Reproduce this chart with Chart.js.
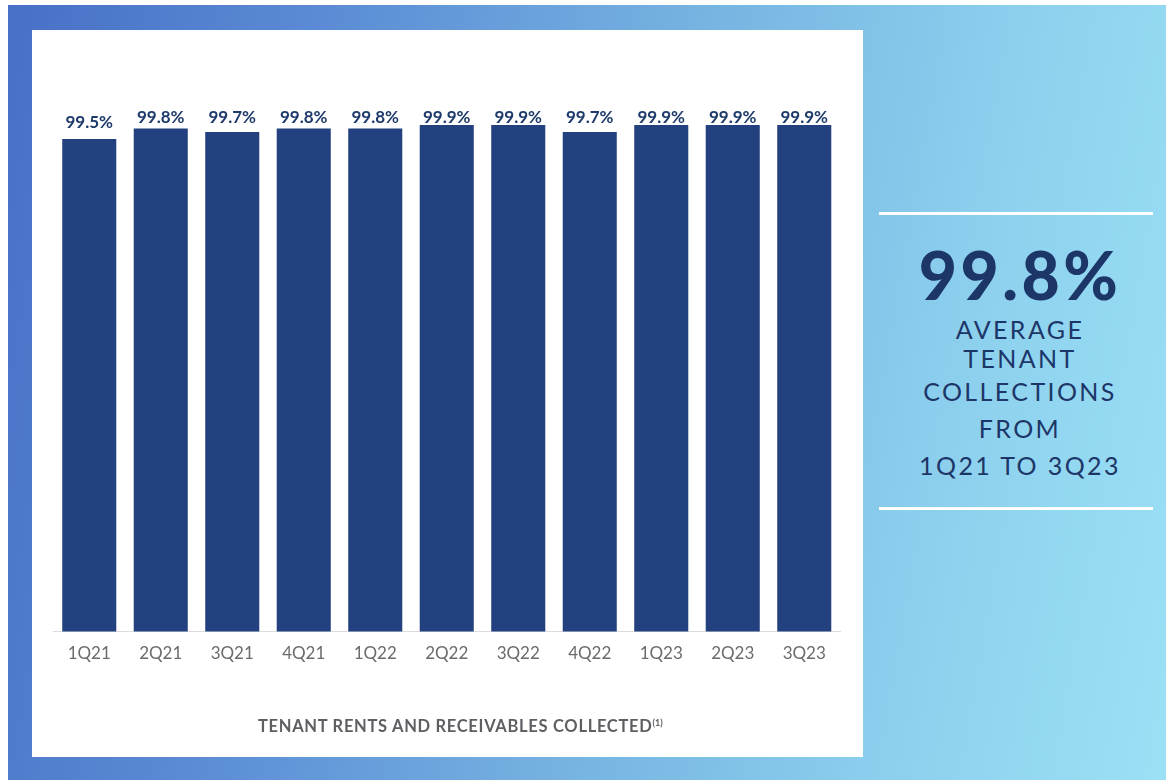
<!DOCTYPE html>
<html>
<head>
<meta charset="utf-8">
<script src="https://cdn.jsdelivr.net/npm/chart.js@4.4.0/dist/chart.umd.min.js"></script>
<style>
  html, body { margin: 0; padding: 0; background: #ffffff; }
  body { width: 1166px; height: 780px; position: relative; overflow: hidden; font-family: Lato, "Open Sans", sans-serif; }
  .bg {
    position: absolute; left: 8px; top: 5px; right: 0; bottom: 0;
    background: linear-gradient(100deg, #4770c6 0%, #5b8cd5 25%, #77b5e2 55%, #8dd1ee 80%, #9be0f5 100%);
  }
  .panel { position: absolute; left: 32px; top: 30px; width: 831px; height: 727px; background: #ffffff; }
  .panel canvas { position: absolute; left: 0; top: 0; }
  .caption {
    position: absolute; left: 226px; top: 688px; white-space: nowrap;
    font-size: 16.5px; line-height: 16px; font-weight: 700; color: #5e5f63; letter-spacing: 0.7px;
  }
  .caption sup { font-size: 9px; vertical-align: top; position: relative; top: -3px; letter-spacing: 0; }
  .rule { position: absolute; left: 879px; width: 274px; height: 3px; background: #ffffff; }
  .side { position: absolute; left: 880px; width: 280px; text-align: center; color: #1d3668; white-space: nowrap; }
  .big { font-size: 66px; line-height: 66px; font-weight: 900; letter-spacing: 3.5px; }
  .sub { font-size: 25px; line-height: 25px; font-weight: 400; letter-spacing: 2.4px; }
</style>
</head>
<body>
<div class="bg"></div>
<div class="panel">
  <canvas id="chart" width="831" height="727"></canvas>
  <div class="caption">TENANT RENTS AND RECEIVABLES COLLECTED<sup>(1)</sup></div>
</div>

<div class="rule" style="top:212px"></div>
<div class="side big" style="top:242px">99.8%</div>
<div class="side sub" style="top:317px">AVERAGE</div>
<div class="side sub" style="top:346px">TENANT</div>
<div class="side sub" style="top:379px">COLLECTIONS</div>
<div class="side sub" style="top:416px">FROM</div>
<div class="side sub" style="top:453px">1Q21 TO 3Q23</div>
<div class="rule" style="top:507px"></div>

<script>
// Quarterly share of tenant rents and receivables collected (%)
const quarters = ['1Q21', '2Q21', '3Q21', '4Q21', '1Q22', '2Q22', '3Q22', '4Q22', '1Q23', '2Q23', '3Q23'];
const collected = [99.5, 99.8, 99.7, 99.8, 99.8, 99.9, 99.9, 99.7, 99.9, 99.9, 99.9];

// Value labels: kept in one row just above the 100% line, dropping
// down toward a bar only when that bar sits well below the row.
const valueLabels = {
  id: 'valueLabels',
  afterDatasetsDraw(chart) {
    const { ctx } = chart;
    const yScale = chart.scales.y;
    const rowY = yScale.getPixelForValue(100) - 4;
    const meta = chart.getDatasetMeta(0);
    ctx.save();
    ctx.font = '700 17px Lato, "Open Sans", sans-serif';
    ctx.fillStyle = '#1f3b6b';
    ctx.textAlign = 'center';
    ctx.textBaseline = 'middle';
    meta.data.forEach((bar, i) => {
      const y = Math.max(rowY, bar.y - 16);
      ctx.fillText(collected[i].toFixed(1) + '%', bar.x, y);
    });
    ctx.restore();
  }
};

new Chart(document.getElementById('chart'), {
  type: 'bar',
  data: {
    labels: quarters,
    datasets: [{
      data: collected,
      backgroundColor: '#23417f',
      borderWidth: 0,
      categoryPercentage: 0.84,
      barPercentage: 0.9
    }]
  },
  options: {
    responsive: false,
    animation: false,
    events: [],
    layout: { padding: { left: 21.5, right: 23, top: 91.5, bottom: 75.5 } },
    plugins: {
      legend: { display: false },
      tooltip: { enabled: false },
      title: { display: false }
    },
    scales: {
      x: {
        grid: { display: false, drawTicks: false },
        border: { display: true, color: '#dcdcdc', width: 1 },
        ticks: {
          padding: 12,
          color: '#6b6b6e',
          font: { family: 'Lato, "Open Sans", sans-serif', size: 17, weight: '400' },
          maxRotation: 0
        },
        afterFit(scale) { scale.height = 50; }
      },
      y: {
        display: false,
        min: 85.4,
        max: 100
      }
    }
  },
  plugins: [valueLabels]
});
</script>
</body>
</html>
